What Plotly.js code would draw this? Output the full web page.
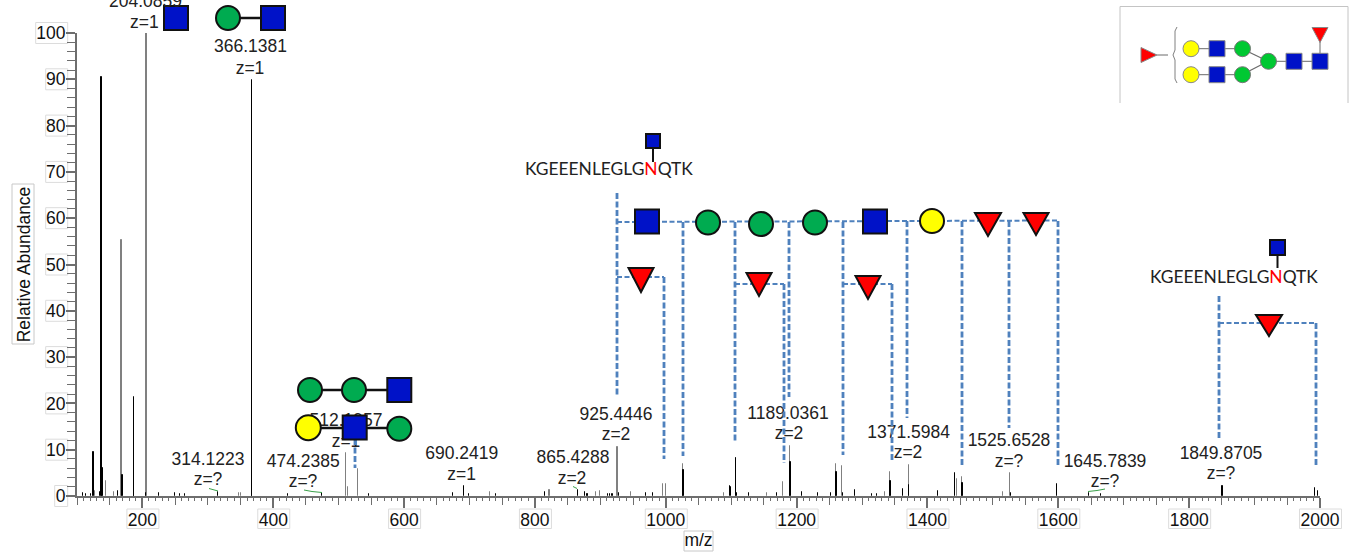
<!DOCTYPE html>
<html><head><meta charset="utf-8">
<script src="https://cdn.plot.ly/plotly-3.0.1.min.js"></script>
<style>html,body{margin:0;padding:0;background:#fff}</style>
</head><body><div id="chart" style="width:1357px;height:554px"></div>
<script>
// Spectrum peaks (m/z, relative abundance)
const greyMz = [127.5,143,155.5,167.2,204.09,346.4,350.6,510.9,513.5,528.2,729.9,821.5,892.8,898,925.44,946,995.7,998.9,1025.2,1088.4,1106.3,1153.6,1178.5,1189.04,1260,1268.6,1334.4,1342,1371.6,1444.8,1451.4,1515,1525.65];
const greyHeight = [1,3.2,.8,55.3,100,.7,.7,9.2,1.9,5.8,.9,1.3,.9,1,10.5,.9,2.6,2.7,7,.7,8.2,.7,3,10.8,7,6.5,.8,5.2,6.8,3.6,4,.9,4.9];
const blackMz = [108,113.7,121,124.5,134,136.7,137.6,161.6,167.6,186,186.9,205,224,249.7,256,264,314.12,366.14,367,421.8,473.8,545,673.3,690.24,697.8,740,813.9,865.43,876,879.6,911.6,914,916.5,919,928,969,979,1025.2,1097.5,1099,1106.3,1108.8,1127,1169.8,1189.04,1208,1232.5,1251.3,1260,1269.6,1289,1315,1322,1342,1362,1371.6,1414.9,1441.7,1451.4,1526.6,1597.2,1645.78,1664.4,1849.87,1992,1996];
const blackHeight = [.6,.5,.4,9.4,.8,90.5,6,1,4.5,21.3,2,.7,.6,.6,.4,.4,.9,89.9,1.7,.4,.7,.4,.6,2.1,.5,.4,.8,1.3,.8,.5,.4,.4,.4,.4,.7,.7,.7,5.7,2.2,1.9,8.2,.7,.7,.7,7.4,.8,.6,.6,5.2,.7,1.3,.4,.5,3.2,1.5,2.4,1.1,5,2.9,.6,2.6,.7,.4,2.2,1.7,1];
const heavyGrey = [167.2,204.09];
const heavyBlack = [137.6,167.6,1025.2,1189.04,1260,1342,1451.4,1849.87];

// Peak labels
const peakLabels = ["366.1381","z=1","314.1223","z=?","474.2385","z=?","512.1957","z=1","690.2419","z=1","865.4288","z=2","925.4446","z=2","1189.0361","z=2","1371.5984","z=2","1525.6528","z=?","1645.7839","z=?","1849.8705","z=?"];
const labelPxX = [250.5,250,208,208,303.3,303,346,346,461.7,461.7,573,572,616,616,788,789,908.7,908,1009,1009,1105,1105,1221,1221];
const labelPxY = [48,69.5,460.7,480.7,462.7,483,422,442.7,455,476,458.3,479.3,415.7,436,415,435,433.3,454,441.7,462.7,462.3,482.7,454.3,475];
const basePeakLabels = ["204.0859","z=1"];

const yTicks = [0,10,20,30,40,50,60,70,80,90,100];
const xTicks = [200,400,600,800,1000,1200,1400,1600,1800,2000];
const peptide = 'KGEEENLEGLG<span style="color:#ff0000">N</span>QTK';

// Frame of the plot in pixels
const L=77,R=1320,T=33,B=496,W=1357,H=554;
const pxX=p=>(p-L)/(R-L), pxY=p=>(B-p)/(B-T);
const dataX=p=>100+(p-L)/(R-L)*1900, dataY=p=>(B-p)/(B-T)*100;

const BLUE='#0012c8',GREEN='#00ab50',YELLOW='#ffff00',RED='#ff0000',DASH='#4f81bd';
const shapes=[];
const paper={xref:'paper',yref:'paper',layer:'above'};
function seg(x0,y0,x1,y1,color,w,dash){shapes.push({...paper,type:'line',x0:pxX(x0),y0:pxY(y0),x1:pxX(x1),y1:pxY(y1),line:{color,width:w,dash:dash||'solid'}});}
function sq(cx,cy,s,fill,lc,lw){shapes.push({...paper,type:'rect',x0:pxX(cx-s/2),x1:pxX(cx+s/2),y0:pxY(cy-s/2),y1:pxY(cy+s/2),fillcolor:fill,line:{color:lc||'#111',width:lw||2}});}
function ci(cx,cy,r,fill,lc,lw){shapes.push({...paper,type:'circle',x0:pxX(cx-r),x1:pxX(cx+r),y0:pxY(cy-r),y1:pxY(cy+r),fillcolor:fill,line:{color:lc||'#111',width:lw||2}});}
function poly(pts,fill,lc,lw){shapes.push({...paper,type:'path',path:'M'+pts.map(p=>pxX(p[0])+','+pxY(p[1])).join(' L')+' Z',fillcolor:fill,line:{color:lc||'#111',width:lw||2}});}
function triDown(cx,top,bot,w){poly([[cx-w/2,top],[cx+w/2,top],[cx,bot]],RED);}
function curve(pts,color,w){shapes.push({...paper,type:'path',path:'M'+pts.map(p=>pxX(p[0])+','+pxY(p[1])).join(' L'),line:{color,width:w}});}

// tick label frames
const FR='#dcdcdc';
yTicks.forEach(v=>{const y=B-(B-T)*v/100,w=v==100?32:(v==0?13:22);
  shapes.push({xref:'paper',yref:'paper',layer:'below',type:'rect',x0:pxX(67.7-w),x1:pxX(67.7),y0:pxY(y-10.5),y1:pxY(y+10.5),line:{color:FR,width:1}});});
xTicks.forEach(v=>{const x=L+(v-100)/1900*(R-L),w=v<1000?32:42;
  shapes.push({xref:'paper',yref:'paper',layer:'below',type:'rect',x0:pxX(x-w/2+.5),x1:pxX(x+w/2+.5),y0:pxY(509),y1:pxY(528.5),line:{color:FR,width:1}});});
[[12,184,34,344],[684,531,713,551]].forEach(b=>shapes.push({xref:'paper',yref:'paper',layer:'below',type:'rect',x0:pxX(b[0]),x1:pxX(b[2]),y0:pxY(b[1]),y1:pxY(b[3]),line:{color:'#c8c8c8',width:1}}));

// green squiggles beside z=?
curve([[209,488.5],[218,491]],'#3aa04a',1);
curve([[304,490],[312,491.5],[322,492.5]],'#3aa04a',1);
curve([[573,486.5],[577,488.5]],'#3aa04a',1);
curve([[1088,491.5],[1097,490.5],[1105,489]],'#3aa04a',1);

// dashed fragment ladder
const dV='6px,2.5px', dH='5px,2.5px';
seg(617,222,1058,220.5,DASH,2,dH);
[[617,193,397],[683,222,456],[735,222,443],[789,222,397],[843,222,455],[907,221,418],[962,221,466],[1009,221,428],[1058,221,467],[664,277,459],[784,284,463],[892,284,461],[1219,296,439],[1316,323,465],[355,439,468]].forEach(v=>seg(v[0],v[1],v[0],v[2],DASH,2.8,dV));
seg(617,277,664,277,DASH,2,dH);seg(735,284,784,284,DASH,2,dH);seg(843,284,892,284,DASH,2,dH);seg(1219,323,1316,323,DASH,2,dH);

// glycan cartoons
seg(240,18,261,18,'#111',2.5);
sq(176,18,24,BLUE);ci(228,18,12,GREEN);sq(273,18,24,BLUE);
seg(310,390,400,390,'#111',2.5);
ci(310,390,12,GREEN);ci(354,390,12,GREEN);sq(399.3,390,24,BLUE);
seg(308,428,399,428,'#111',2.5);
ci(308.3,427.7,12.5,YELLOW);sq(354.7,427.5,24,BLUE);ci(399.3,428.7,12,GREEN);
sq(647,221.5,24,BLUE);ci(708,222.5,12,GREEN);ci(761,224,12,GREEN);ci(815,222.5,12,GREEN);sq(875,221.5,24,BLUE);ci(932,221,12,YELLOW);
triDown(988,213,236,26);triDown(1036,213,235,25);triDown(641,268,292,25);triDown(759,273,296,25);triDown(868,276,299,25);triDown(1269,315,336,26);
seg(653,148,653,162,'#111',2);sq(653,141,14,BLUE);
seg(1277.5,254,1277.5,268,'#111',2);sq(1277.5,247.5,15,BLUE);

// inset frame and structure
const IN='#6a6a6a';
seg(1120,6.5,1348,6.5,'#c4c4c4',1);seg(1120,6.5,1120,103,'#c4c4c4',1);seg(1348,6.5,1348,103,'#c4c4c4',1);
seg(1157,55,1168,55,IN,1);
curve([[1177,27],[1175,31],[1175,50],[1173,55],[1175,60],[1175,79],[1177,83]],'#808080',1);
seg(1191,48.7,1242,48.7,IN,1);seg(1191,74.7,1242,74.7,IN,1);seg(1242,48.7,1268,61.3,IN,1.2);seg(1242,74.7,1268,61.3,IN,1.2);seg(1268,61.3,1320,61.3,IN,1);seg(1320,40,1320,61,IN,1);
poly([[1141,47.5],[1141,62.5],[1157,55]],RED,'#888',1);
[48.7,74.7].forEach(y=>{ci(1191,y,8,YELLOW,'#888',1);sq(1217,y,16,BLUE,'#888',1);ci(1242.5,y,8,'#00c832','#777',1);});
ci(1268.5,61.3,8,'#00c832','#777',1);sq(1294,61.3,16,BLUE,'#888',1);sq(1320,61.3,16,BLUE,'#888',1);
poly([[1312,27.5],[1328,27.5],[1320,42.5]],RED,'#888',1);

const FONT='"Liberation Sans", Arial, sans-serif';
const TXT='#222222';
const traces=[
 {type:'bar',name:'precursor-grey',x:greyMz,y:greyHeight,offset:0.7,width:greyMz.map(m=>heavyGrey.includes(m)?1.6:0.05),marker:{color:'#808080',line:{width:1,color:'#808080'}},hoverinfo:'x+y',xaxis:'x',yaxis:'y'},
 {type:'bar',name:'fragment-black',x:blackMz,y:blackHeight,offset:0.7,width:blackMz.map(m=>heavyBlack.includes(m)?1.6:0.05),marker:{color:'#000000',line:{width:1,color:'#000000'}},hoverinfo:'x+y',xaxis:'x2',yaxis:'y'},
 {type:'scatter',mode:'text',name:'labels',x:labelPxX.map(dataX),y:labelPxY.map(dataY),text:peakLabels,textposition:'middle center',textfont:{family:FONT,size:17.5,color:TXT},cliponaxis:false,hoverinfo:'skip',xaxis:'x2',yaxis:'y'}
];
const axisLine={showline:true,linecolor:'#6e6e6e',linewidth:2,tickcolor:'#6e6e6e',showgrid:false,zeroline:false};
const labelFont={family:FONT,size:17.5,color:TXT};
const layout={
 width:W,height:H,margin:{l:L,r:W-R,t:T,b:H-B},paper_bgcolor:'#fff',plot_bgcolor:'#fff',showlegend:false,bargap:0,barmode:'overlay',
 font:{family:FONT,size:17.5,color:'#111'},
 xaxis:{...axisLine,range:[100,2000],tickmode:'array',tickvals:xTicks,ticktext:xTicks.map(String),ticks:'outside',ticklen:10,tickwidth:1.5,ticklabelstandoff:-3,tickfont:{family:FONT,size:17.5,color:'#111'},
   title:{text:'m/z',font:{family:FONT,size:17.5,color:'#111'},standoff:3},anchor:'y'},
 xaxis2:{...axisLine,range:[100,2000],overlaying:'x',anchor:'y',side:'bottom',showticklabels:false,dtick:50,tick0:100,ticks:'outside',ticklen:7,tickwidth:1,minor:{dtick:10,ticks:'outside',ticklen:3,tickwidth:1,tickcolor:'#6e6e6e',showgrid:false}},
 yaxis:{...axisLine,range:[0,100],dtick:10,ticks:'outside',ticklen:9,tickwidth:1.5,ticklabelstandoff:-3,minor:{dtick:2,ticks:'outside',ticklen:8,tickwidth:1,tickcolor:'#6e6e6e',showgrid:false},
   tickfont:{family:FONT,size:17.5,color:'#111'},title:{text:'Relative Abundance',font:{family:FONT,size:17.5,color:'#111'},standoff:1}},
 shapes,
 annotations:[
  {xref:'paper',yref:'paper',x:pxX(145),y:pxY(1),text:basePeakLabels[0],showarrow:false,xanchor:'center',yanchor:'middle',font:labelFont},
  {xref:'paper',yref:'paper',x:pxX(144),y:pxY(22),text:basePeakLabels[1],showarrow:false,xanchor:'center',yanchor:'middle',font:labelFont},
  {xref:'paper',yref:'paper',x:pxX(609),y:pxY(169),text:peptide,showarrow:false,xanchor:'center',yanchor:'middle',font:{family:'Lato, sans-serif',size:17.4,color:'#222'}},
  {xref:'paper',yref:'paper',x:pxX(1234),y:pxY(276),text:peptide,showarrow:false,xanchor:'center',yanchor:'middle',font:{family:'Lato, sans-serif',size:17.4,color:'#222'}}
 ]
};
Plotly.newPlot('chart',traces,layout,{displayModeBar:false,responsive:false});
</script></body></html>
